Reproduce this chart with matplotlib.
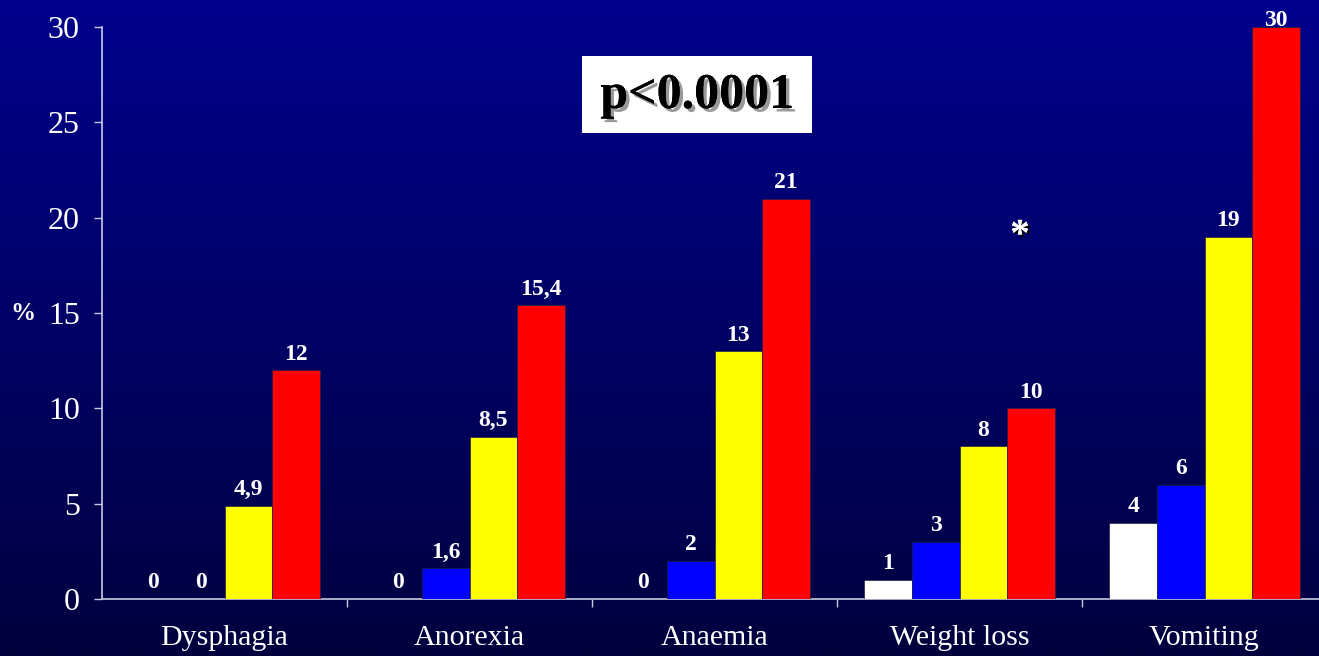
import numpy as np
import matplotlib
matplotlib.use("Agg")
import matplotlib.pyplot as plt
import matplotlib.patheffects as pe
from matplotlib.transforms import blended_transform_factory

categories = ['Dysphagia', 'Anorexia', 'Anaemia', 'Weight loss', 'Vomiting']
series_white = [0, 0, 0, 1, 4]
series_blue = [0, 1.6, 2, 3, 6]
series_yellow = [4.9, 8.5, 13, 8, 19]
series_red = [12, 15.4, 21, 10, 30]
labels_white = ['0', '0', '0', '1', '4']
labels_blue = ['0', '1,6', '2', '3', '6']
labels_yellow = ['4,9', '8,5', '13', '8', '19']
labels_red = ['12', '15,4', '21', '10', '30']
yticks = [0, 5, 10, 15, 20, 25, 30]

W, H = 1319, 656
fig = plt.figure(figsize=(W / 100, H / 100), dpi=100)

# background gradient
bg = fig.add_axes([0, 0, 1, 1], zorder=-10)
grad = np.linspace(0, 1, 256).reshape(-1, 1)
top = np.array([0, 0, 140]) / 255
bot = np.array([0, 0, 62]) / 255
img = top[None, None, :] * (1 - grad[:, :, None]) + bot[None, None, :] * grad[:, :, None]
bg.imshow(img, aspect='auto', extent=[0, 1, 0, 1])
bg.axis('off')

left = 102 / W
bottom = (H - 599) / H
width = 1225 / W
height = (599 - 27) / H
ax = fig.add_axes([left, bottom, width, height])
ax.patch.set_alpha(0)

x = np.arange(len(categories))
bw = 0.194
serif = 'Liberation Serif'
series = [(series_white, labels_white, '#FFFFFF'),
          (series_blue, labels_blue, '#0000FF'),
          (series_yellow, labels_yellow, '#FFFF00'),
          (series_red, labels_red, '#FF0000')]
for i, (vals, labs, col) in enumerate(series):
    bars = ax.bar(x + (i - 1.5) * bw, vals, bw, color=col,
                  edgecolor='#20204a', linewidth=0.5, zorder=3)
    texts = ax.bar_label(bars, labels=labs, padding=4, color='white',
                         fontsize=17, fontweight='bold', family=serif)
    for t, v in zip(texts, vals):
        if v >= 29:
            t.set_clip_on(False)
            t.xyann = (0, -3)

ax.set_xlim(-0.5, len(categories) - 0.5)
ax.set_ylim(0, 30)
ax.set_yticks(yticks)
ax.set_yticklabels([str(t) for t in yticks], family=serif, fontsize=23, color='white')
ax.set_xticks(x)
ax.set_xticklabels(categories, family=serif, fontsize=21.5, color='white')
ax.tick_params(axis='x', length=0, pad=19)
ax.set_xticks(np.arange(len(categories) - 1) + 0.5, minor=True)
ax.tick_params(axis='x', which='minor', length=6, width=1, color='#C8C8E0', direction='out')
ax.tick_params(axis='y', length=6, width=1, color='#C8C8E0', pad=10)
for s in ['top', 'right']:
    ax.spines[s].set_visible(False)
for s in ['left', 'bottom']:
    ax.spines[s].set_color('#C8C8E0')
    ax.spines[s].set_linewidth(1.2)

# % label
tr = blended_transform_factory(fig.transFigure, ax.transData)
ax.text(23 / W, 15, '%', transform=tr, ha='center', va='center',
        color='white', fontsize=18, fontweight='bold', family=serif)

# p-value box
shadow = [pe.withSimplePatchShadow(offset=(2.5, -2.5), shadow_rgbFace='#999999', alpha=1.0), pe.Normal()]
fig.patches.append(plt.Rectangle((582 / W, 1 - 133 / H), 230 / W, 77 / H,
                                 transform=fig.transFigure, facecolor='white',
                                 edgecolor='none', zorder=5))
t = fig.text(697 / W, 1 - 96 / H, 'p<0.0001', ha='center', va='center',
             fontsize=36, fontweight='bold', family=serif, color='black', zorder=6)
t.set_path_effects(shadow)

ast = fig.text(1020 / W, 1 - 236 / H, '*', ha='center', va='center',
               fontsize=28, fontweight='bold', family=serif, color='white', zorder=6)
ast.set_path_effects([pe.withSimplePatchShadow(offset=(1.5, -1.5), shadow_rgbFace='black', alpha=1.0), pe.Normal()])

fig.savefig('out.png', dpi=100)
